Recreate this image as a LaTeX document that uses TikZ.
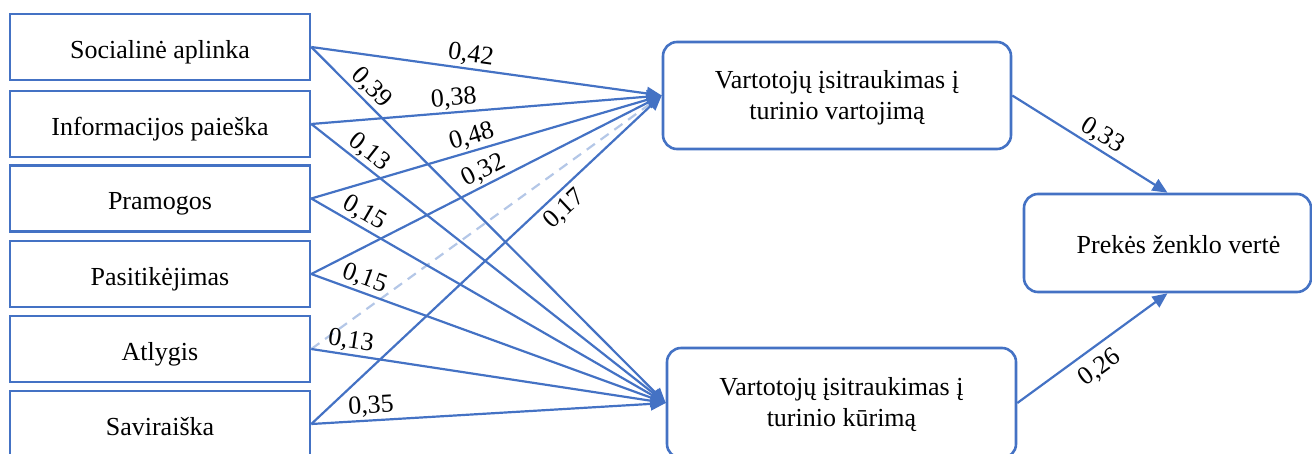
\documentclass[tikz,border=0pt]{standalone}
\usepackage{fontspec}
\setmainfont{Liberation Serif}
\usetikzlibrary{arrows.meta}
\definecolor{ob}{HTML}{4472C4}
\definecolor{lb}{HTML}{B4C7E7}
\begin{document}
\begin{tikzpicture}[x=1pt,y=-1pt,
  box/.style={draw=ob, line width=2.6pt, minimum width=300pt, minimum height=66pt, inner sep=0pt, font=\fontsize{26}{31}\selectfont, fill=white, text height=22pt, text depth=0pt},
  rbox/.style={draw=ob, line width=2.6pt, rounded corners=14pt, align=center, inner sep=0pt, font=\fontsize{26}{31}\selectfont, fill=white},
  conn/.style={draw=ob, line width=2.2pt, -{Triangle[length=15pt,width=13pt]}},
  dconn/.style={draw=lb, line width=2.2pt, dash pattern=on 10pt off 7pt},
  lab/.style={font=\fontsize{26}{30}\selectfont, sloped, inner sep=2pt},
]
\useasboundingbox (0,0) rectangle (1312,453);
\clip (0,0) rectangle (1312,453);

\node[box] (s1) at (160,47) {Socialinė aplinka};
\node[box] (s2) at (160,124) {Informacijos paieška};
\node[box] (s3) at (160,198.5) {Pramogos};
\node[box] (s4) at (160,274) {Pasitikėjimas};
\node[box] (s5) at (160,349) {Atlygis};
\node[box] (s6) at (160,424) {Saviraiška};

\node[rbox, minimum width=348pt, minimum height=107pt, text height=47pt, text depth=0pt] (t) at (837,95.5) {Vartotojų įsitraukimas į\\turinio vartojimą};
\node[rbox, minimum width=349pt, minimum height=110pt, text height=47pt, text depth=0pt] (b) at (841.5,403) {Vartotojų įsitraukimas į\\turinio kūrimą};
\node[rbox, minimum width=287pt, minimum height=98pt, text height=20pt, text depth=0pt] (r) at (1167.5,243) {\hspace*{22pt}Prekės ženklo vertė};

\draw[dconn] (s5.east) -- (t.west);

\draw[conn] (s1.east) -- node[lab, pos=.45, above] {0,42} (t.west);
\draw[conn] (s1.east) -- node[lab, pos=.143, above] {0,39} (b.west);
\draw[conn] (s2.east) -- node[lab, pos=.41, above] {0,38} (t.west);
\draw[conn] (s2.east) -- node[lab, pos=.139, above] {0,13} (b.west);
\draw[conn] (s3.east) -- node[lab, pos=.469, above] {0,48} (t.west);
\draw[conn] (s3.east) -- node[lab, pos=.13, above] {0,15} (b.west);
\draw[conn] (s4.east) -- node[lab, pos=.51, above] {0,32} (t.west);
\draw[conn] (s4.east) -- node[lab, pos=.137, above] {0,15} (b.west);
\draw[conn] (s5.east) -- node[lab, pos=.106, above] {0,13} (b.west);
\draw[conn] (s6.east) -- node[lab, pos=.69, below=3pt] {0,17} (t.west);
\draw[conn] (s6.east) -- node[lab, pos=.171, above] {0,35} (b.west);

\draw[conn] (t.east) -- node[lab, pos=.535, above] {0,33} (r.north);
\draw[conn] (b.east) -- node[lab, pos=.47, below=7pt] {0,26} (r.south);
\end{tikzpicture}
\end{document}
